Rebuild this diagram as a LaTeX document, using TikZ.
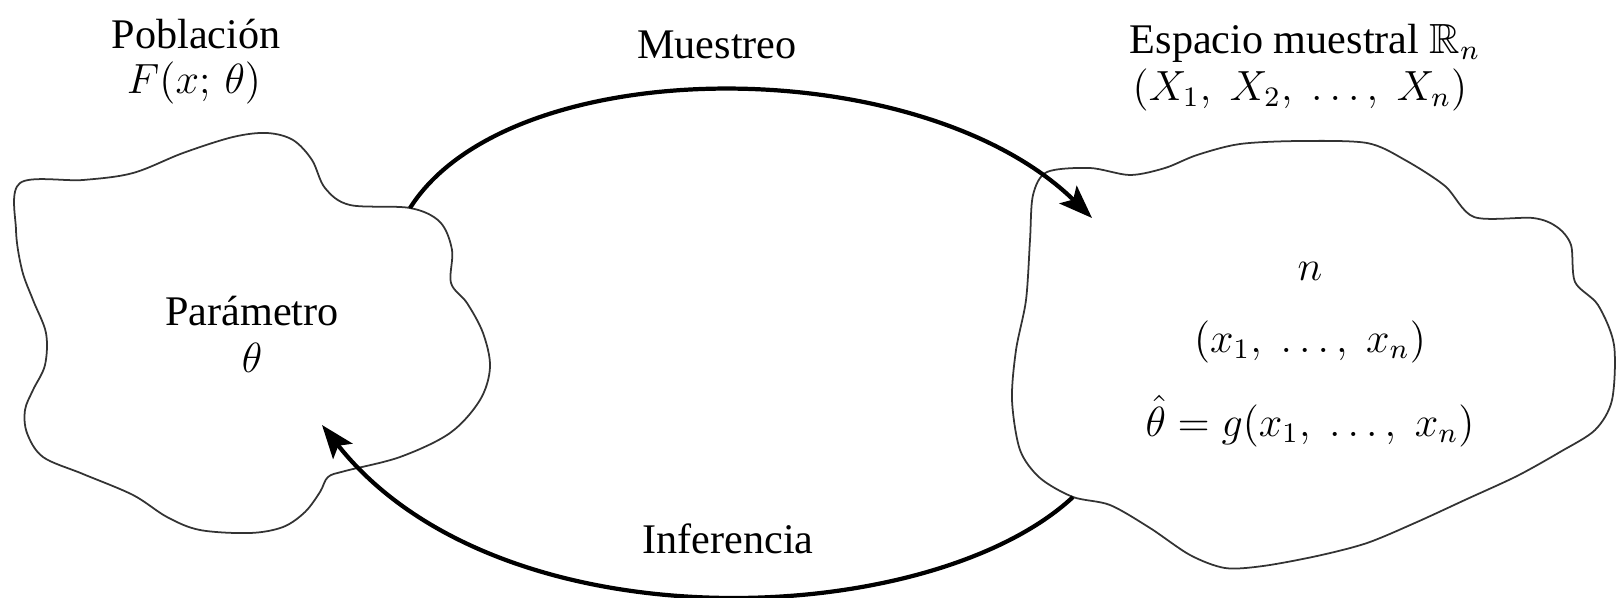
\documentclass[tikz,border=0pt]{standalone}
\usepackage{amssymb}
\usepackage{fontspec}
\setmainfont{Liberation Serif}
\usetikzlibrary{arrows.meta}
\tikzset{
  lbl/.style={anchor=base, inner sep=0pt, font=\fontsize{12}{14.5}\selectfont},
  blob/.style={draw=black!80, line width=0.5pt},
  flow/.style={line width=1.2pt, -{Stealth[length=9.5pt,width=7pt,inset=2pt]}},
}
\begin{document}
\begin{tikzpicture}[x=0.01cm,y=-0.01cm]
\useasboundingbox (0,0) rectangle (1616,597);
% left blob
\draw[blob] plot[smooth cycle, tension=0.55] coordinates {
 (20,183) (83,180) (133,173) (183,153) (233,137) (267,133) (293,140) (312,160)
 (325,188) (350,205) (410,208) (440,222) (452,250) (451,283) (467,303) (483,333)
 (490,367) (480,400) (450,433) (400,457) (345,471) (328,477) (320,492) (305,512)
 (283,527) (250,533) (200,530) (167,517) (133,495) (83,474) (43,457) (27,433)
 (25,410) (33,390) (45,365) (46,333) (33,300) (22,270) (16,230) };
% right blob
\draw[blob] plot[smooth cycle, tension=0.5] coordinates {
 (1047,172) (1090,168) (1130,175) (1165,168) (1197,155) (1240,144) (1300,141)
 (1367,143) (1405,160) (1445,186) (1474,217) (1533,218) (1557,227) (1571,245)
 (1575,282) (1598,305) (1614,345) (1612,400) (1595,430) (1560,452) (1517,476)
 (1467,499) (1417,522) (1367,543) (1317,556) (1263,566) (1225,568) (1190,555)
 (1150,528) (1110,505) (1073,497) (1040,478) (1020,450) (1012,400) (1016,350)
 (1026,300) (1030,240) (1033,195) };
% anchor points of the connectors
\coordinate (mstart) at (410,208);
\coordinate (mend) at (1092,218);
\coordinate (istart) at (1073,497);
\coordinate (iend) at (322,425);
% labels
\node[lbl] (pob) at (196,48) {Población};
\node[lbl] (pobf) at (194,93) {$F(x;\,\theta)$};
\node[lbl] (mue) at (717,58) {Muestreo};
\node[lbl] (esp) at (1305,53) {Espacio muestral $\mathbb{R}_n$};
\node[lbl] (espx) at (1300,100) {$(X_1,\; X_2,\; \ldots,\; X_n)$};
\node[lbl] (par) at (252,325) {Parámetro};
\node[lbl] (parth) at (252,372) {$\theta$};
\node[lbl] (nn) at (1310,280) {$n$};
\node[lbl] (xs) at (1310,352) {$(x_1,\; \ldots,\; x_n)$};
\node[lbl] (est) at (1310,436) {$\hat\theta = g(x_1,\; \ldots,\; x_n)$};
\node[lbl] (inf) at (728,553) {Inferencia};
% connectors
\draw[flow] (mstart) .. controls (510,50) and (920,50) .. (mend);
\draw[flow] (istart) .. controls (930,630) and (500,650) .. (iend);
\end{tikzpicture}
\end{document}
